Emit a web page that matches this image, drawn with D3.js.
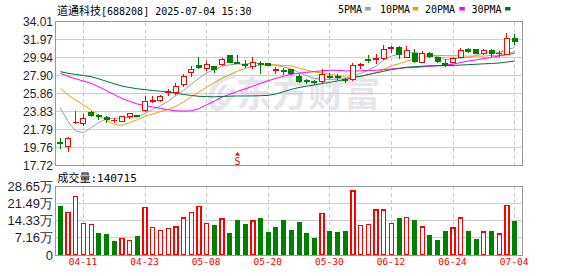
<!DOCTYPE html>
<html><head><meta charset="utf-8">
<script src="https://cdn.jsdelivr.net/npm/d3@7"></script>
<style>html,body{margin:0;padding:0;background:#fff;} svg{display:block;}</style>
</head><body>
<svg id="c" width="578" height="276"></svg>
<script>
// ---------------- data ----------------
const dates = ["04-08","04-09","04-10","04-11","04-14","04-15","04-16","04-17","04-18","04-21",
"04-22","04-23","04-24","04-25","04-28","04-29","04-30","05-06","05-07","05-08",
"05-09","05-12","05-13","05-14","05-15","05-16","05-19","05-20","05-21","05-22",
"05-23","05-26","05-27","05-28","05-29","05-30","06-03","06-04","06-05","06-06",
"06-09","06-10","06-11","06-12","06-13","06-16","06-17","06-18","06-19","06-20",
"06-23","06-24","06-25","06-26","06-27","06-30","07-01","07-02","07-03","07-04"];
const open  = [20.30,19.83,22.55,22.43,23.71,23.35,23.17,22.80,22.72,23.28,
23.38,23.88,25.00,25.07,25.95,25.96,26.91,28.22,29.02,28.70,
28.93,29.18,30.12,29.41,29.21,28.91,29.27,29.29,28.55,28.42,
28.61,27.77,27.32,27.17,27.17,27.85,27.80,27.40,27.40,29.01,
29.74,29.74,29.84,30.97,31.11,29.97,30.40,29.38,30.35,29.97,
29.24,29.41,29.97,30.91,30.91,30.38,30.74,30.40,30.31,32.13];
const high  = [20.79,20.97,23.88,23.51,23.88,23.54,23.32,23.09,23.35,23.66,
23.45,25.58,25.58,25.75,26.32,27.02,28.04,28.99,30.01,29.59,
28.99,29.89,30.15,30.23,29.61,29.95,29.55,29.35,28.87,28.76,
28.70,28.04,27.48,27.40,28.61,28.14,28.08,27.59,29.36,29.36,
30.23,30.35,31.37,31.31,31.25,31.25,30.91,30.63,30.61,30.06,
29.74,30.04,31.05,31.06,30.95,30.91,30.91,30.74,32.69,32.62];
const low   = [19.57,19.18,22.37,22.18,23.17,22.86,22.47,22.56,22.64,22.98,
23.22,23.71,24.76,24.94,25.58,25.70,26.64,27.77,28.59,28.42,
28.14,29.04,29.33,29.18,28.76,28.61,28.08,28.95,28.08,27.97,
27.97,27.02,26.91,26.83,26.94,27.48,27.40,27.02,27.32,28.61,
29.29,29.18,29.63,30.43,29.81,29.95,29.33,29.33,29.86,29.38,
28.91,29.33,29.93,30.46,30.40,30.18,30.01,30.04,30.23,31.42];
const close = [20.20,20.79,22.62,22.98,23.32,23.20,22.88,22.85,23.26,23.62,
23.33,24.94,25.10,25.47,26.05,26.66,27.80,28.61,28.87,29.10,
28.59,29.67,29.36,29.33,29.04,29.33,29.16,29.01,28.62,28.31,
28.08,27.21,27.17,27.06,28.04,27.70,27.63,27.29,28.99,29.10,
29.59,29.89,30.88,31.05,30.29,30.74,29.55,30.40,30.09,29.47,
29.18,29.84,30.78,30.61,30.43,30.72,30.43,30.45,32.10,31.71];
const volume = [204000,178000,243000,132000,128000,90000,86000,58000,70000,61000,
79000,199000,116000,103000,111000,117000,154000,178000,203000,132000,
125000,150000,90000,146000,129000,142000,156000,96000,117000,146000,
104000,138000,92000,72000,174000,100000,96000,100000,267000,124000,
128000,188000,188000,132000,156000,156000,146000,117000,83000,62000,
100000,113000,154000,100000,67000,96000,100000,88000,207000,140715];
// closes before the first visible day (needed for the moving averages)
const prevCloses = [26.2,26.5,26.9,27.2,30.5,31.4,31.2,31.2,28.3,27.6,
27.8,28.2,28.0,28.5,31.0,32.0,31.8,31.8,30.2,29.3,
28.3,28.6,28.5,29.2,29.0,28.4,28.0,23.9,20.5];
const priceTicks = [17.72,19.76,21.79,23.83,25.86,27.90,29.94,31.97,34.01];
const volTicks = [0,71625,143250,214875,286500];
const volTickLabels = ["0","7.16万","14.33万","21.49万","28.65万"];
const dateTicks = ["04-11","04-23","05-08","05-20","05-30","06-12","06-24","07-04"];
const maPeriods = [5,10,20,30];
const maNames = ["5PMA","10PMA","20PMA","30PMA"];
const maColors = ["#a0a0a0","#f0a000","#ff00ff","#00703a"];
const signalDate = "05-14";
const titleName = "道通科技", titleRest = "[688208] 2025-07-04 15:30";

// ---------------- layout ----------------
const UP = "#ff0000", DOWN = "#008000";
const L = 55.5, R = 522;
const PT = 21.7, PB = 165.3, VT = 186.3, VB = 255;
const svg = d3.select("#c");
svg.append("rect").attr("width",578).attr("height",276).attr("fill","#fff");

const x = d3.scalePoint().domain(dates).range([60.4, 514.6]);
const y = d3.scaleLinear().domain([17.72, 34.01]).range([PB, PT]);
const yv = d3.scaleLinear().domain([0, 286500]).range([VB, VT]);

const mono = "'DejaVu Sans Mono', 'Liberation Mono', monospace";
const cjk = "'Noto Sans CJK SC', sans-serif";
const sans = "'Liberation Sans', Arial, sans-serif";

// watermark
const wm = svg.append("g").attr("fill","none");
wm.append("path").attr("d","M233,76 C215,78 205,98 214,107 C221,113 230,100 233,91")
  .attr("stroke","#e6e6ec").attr("stroke-width",5).attr("stroke-linecap","round");
wm.append("path").attr("d","M225,86 C218,92 217,101 222,103")
  .attr("stroke","#e6e6ec").attr("stroke-width",4).attr("stroke-linecap","round");
svg.append("text").attr("x",236).attr("y",107).attr("font-family",cjk).attr("font-weight","bold")
  .attr("font-size",36).attr("fill","#e6e6ec").text("东方财富");

// gridlines
const grid = svg.append("g").attr("shape-rendering","crispEdges");
grid.selectAll(".hp").data(priceTicks).join("line")
  .attr("x1",L).attr("x2",R).attr("y1",d=>y(d)).attr("y2",d=>y(d)).attr("stroke","#cfcfcf");
grid.selectAll(".hv").data(volTicks).join("line")
  .attr("x1",L).attr("x2",R).attr("y1",d=>yv(d)).attr("y2",d=>yv(d)).attr("stroke","#cfcfcf");
dateTicks.forEach(d=>{
  [[PT,PB],[VT,VB]].forEach(([a,b])=>{
    grid.append("line").attr("x1",x(d)).attr("x2",x(d)).attr("y1",a).attr("y2",b)
      .attr("stroke","#cccccc").attr("stroke-dasharray","4,3");
  });
});

// moving averages
const allClose = prevCloses.concat(close);
const off = prevCloses.length;
const maG = svg.append("g").attr("fill","none");
maPeriods.forEach((p,k)=>{
  const vals = close.map((c,i)=>d3.mean(allClose.slice(off+i-p+1, off+i+1)));
  maG.append("path").datum(vals)
    .attr("d", d3.line().x((v,i)=>x(dates[i])).y(v=>y(v)))
    .attr("stroke", maColors[k]).attr("stroke-width",1);
});

// candles
const cw = 5;
const cg = svg.append("g").attr("shape-rendering","crispEdges");
dates.forEach((d,i)=>{
  const up = close[i] >= open[i];
  const col = up ? UP : DOWN;
  const cx = x(d);
  cg.append("line").attr("x1",cx).attr("x2",cx).attr("y1",y(high[i])).attr("y2",y(low[i]))
    .attr("stroke",col);
  const top = y(Math.max(open[i],close[i])), bot = y(Math.min(open[i],close[i]));
  cg.append("rect").attr("x",cx-cw/2).attr("y",top).attr("width",cw)
    .attr("height",Math.max(bot-top,0.8))
    .attr("fill", up ? "#fff" : DOWN).attr("stroke",col).attr("stroke-width",1);
});

// volume bars (colour by change vs previous close)
const vg = svg.append("g").attr("shape-rendering","crispEdges");
dates.forEach((d,i)=>{
  const pc = i===0 ? prevCloses[prevCloses.length-1] : close[i-1];
  const up = close[i] >= pc;
  const cx = x(d);
  if (up) {
    vg.append("rect").attr("x",cx-2).attr("y",yv(volume[i])).attr("width",4)
      .attr("height",VB-yv(volume[i])).attr("fill","#fff").attr("stroke",UP).attr("stroke-width",1.3);
  } else {
    vg.append("rect").attr("x",cx-2.5).attr("y",yv(volume[i])).attr("width",5)
      .attr("height",VB-yv(volume[i])).attr("fill",DOWN);
  }
});

// borders
const bd = svg.append("g").attr("fill","none").attr("stroke","#999").attr("shape-rendering","crispEdges");
bd.append("rect").attr("x",L).attr("y",PT).attr("width",R-L).attr("height",PB-PT);
bd.append("rect").attr("x",L).attr("y",VT).attr("width",R-L).attr("height",VB-VT);

// axes
const ay = svg.append("g").attr("transform",`translate(${L-2.5},0)`)
  .call(d3.axisLeft(y).tickValues(priceTicks).tickFormat(d3.format(".2f")).tickSize(0).tickPadding(0));
ay.select(".domain").remove();
ay.selectAll("text").attr("font-family",sans).attr("font-size",12).attr("fill","#1e1e2e");

const av = svg.append("g").attr("transform",`translate(${L-2.5},0)`)
  .call(d3.axisLeft(yv).tickValues(volTicks).tickFormat((d,i)=>volTickLabels[i]).tickSize(0).tickPadding(0));
av.select(".domain").remove();
av.selectAll("text").attr("font-family",sans).attr("font-size",13).attr("fill","#1e1e2e");

const ax = svg.append("g").attr("transform",`translate(-1,${VB+3})`)
  .call(d3.axisBottom(x).tickValues(dateTicks).tickSize(0).tickPadding(0));
ax.select(".domain").remove();
ax.selectAll("text").attr("font-family",mono).attr("font-size",9.5).attr("fill","#ff0000");

// signal marker
const sx = x(signalDate);
svg.append("path").attr("d",`M${sx-2.5},155.5 L${sx},152 L${sx+2.5},155.5 Z`).attr("fill",UP);
svg.append("text").attr("x",sx).attr("y",164.5).attr("text-anchor","middle")
  .attr("font-family",mono).attr("font-size",10).attr("fill",UP).text("S");

// title
const t = svg.append("text").attr("x",57).attr("y",14.5).attr("fill","#000");
t.append("tspan").attr("font-family",cjk).attr("font-size",11).text(titleName);
t.append("tspan").attr("font-family",mono).attr("font-size",10).text(titleRest);

// volume label
const vt = svg.append("text").attr("x",57.5).attr("y",182).attr("fill","#000");
vt.append("tspan").attr("font-family",cjk).attr("font-size",11).text("成交量");
vt.append("tspan").attr("font-family",mono).attr("font-size",11).text(":" + volume[volume.length-1]);

// legend
const lgX = [338, 380, 425, 471.5];
const swX = [365.3, 412.7, 459.3, 505];
maNames.forEach((n,k)=>{
  svg.append("text").attr("x",lgX[k]).attr("y",12.5).attr("font-family",mono)
    .attr("font-size",10).attr("fill","#000").text(n);
  svg.append("rect").attr("x",swX[k]).attr("y",7).attr("width",5.5).attr("height",3.5)
    .attr("fill",maColors[k]);
});
</script>
</body></html>
